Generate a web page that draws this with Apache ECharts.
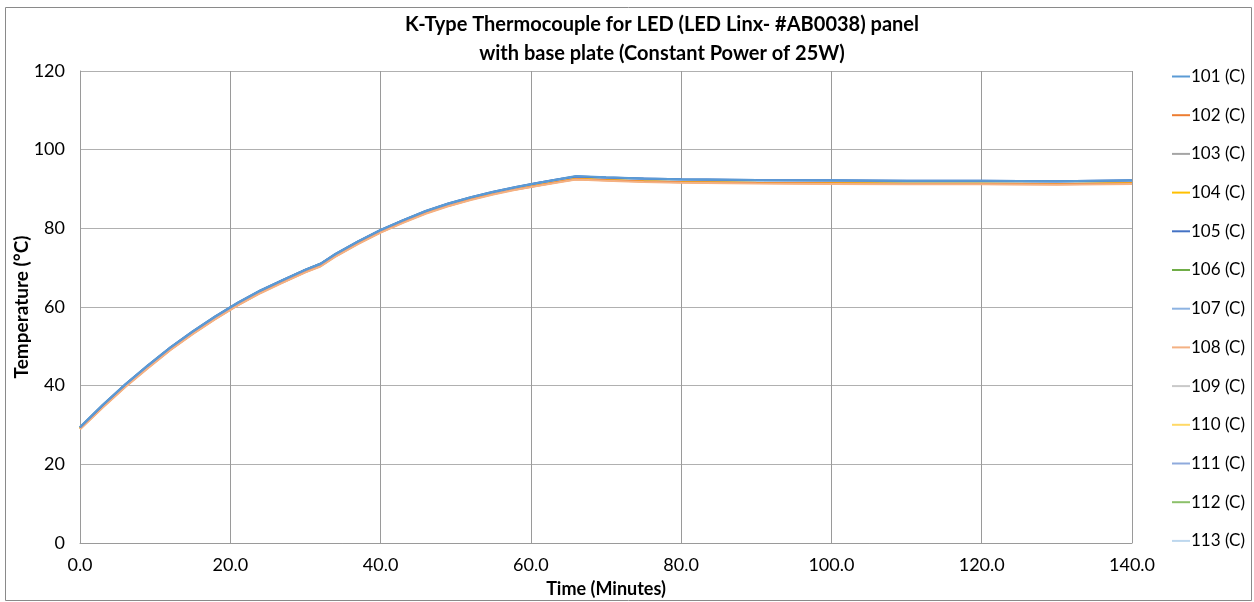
<!DOCTYPE html>
<html>
<head>
<meta charset="utf-8">
<script src="https://cdn.jsdelivr.net/npm/echarts@6/dist/echarts.min.js"></script>
<style>
html,body{margin:0;padding:0;background:#fff;}
#chart{width:1254px;height:602px;}
</style>
</head>
<body>
<div id="chart"></div>
<script>
// Time (minutes)
const times = [0,3,6,9,12,15,18,21,24,27,30,32,34,37,40,43,46,49,52,55,58,61,64,66,70,75,80,90,100,110,120,130,140];

const seriesNames = ['101 (C)','102 (C)','103 (C)','104 (C)','105 (C)','106 (C)','107 (C)','108 (C)','109 (C)','110 (C)','111 (C)','112 (C)','113 (C)'];

const s101 = [29.5,35.1,40.3,45.1,49.7,53.8,57.6,61.1,64.2,66.9,69.5,71.0,73.5,76.7,79.6,82.1,84.4,86.3,87.9,89.3,90.5,91.6,92.6,93.3,93.0,92.7,92.5,92.3,92.2,92.1,92.1,92.0,92.2];
const s102 = [29.0,34.5,39.7,44.5,49.1,53.2,57.0,60.5,63.6,66.3,68.9,70.4,72.9,76.1,79.0,81.5,83.8,85.7,87.3,88.7,89.9,90.9,91.9,92.5,92.2,91.9,91.7,91.5,91.4,91.3,91.3,91.2,91.4];
const s103 = [29.3,34.8,40.0,44.8,49.4,53.5,57.3,60.8,63.9,66.6,69.2,70.7,73.2,76.4,79.3,81.8,84.1,86.0,87.6,89.0,90.2,91.3,92.3,92.9,92.6,92.3,92.1,91.9,91.8,91.7,91.7,91.6,91.8];
const s104 = [29.1,34.6,39.8,44.6,49.2,53.3,57.1,60.6,63.7,66.4,69.0,70.5,73.0,76.2,79.1,81.6,83.9,85.8,87.4,88.8,90.0,91.0,92.0,92.6,92.3,92.0,91.8,91.6,91.5,91.4,91.4,91.3,91.5];
const s105 = [29.4,35.0,40.3,45.1,49.7,53.8,57.6,61.1,64.2,66.9,69.5,71.0,73.5,76.7,79.6,82.1,84.4,86.3,87.9,89.3,90.5,91.6,92.6,93.2,92.9,92.7,92.5,92.3,92.2,92.1,92.1,92.0,92.2];
const s106 = [29.3,34.9,40.1,44.9,49.5,53.6,57.4,60.9,64.0,66.7,69.3,70.9,73.3,76.5,79.4,81.9,84.2,86.1,87.7,89.1,90.3,91.4,92.4,93.0,92.7,92.4,92.2,92.0,91.9,91.8,91.8,91.7,91.9];
const s107 = [29.4,34.9,40.2,45.0,49.6,53.7,57.5,61.0,64.1,66.8,69.4,71.0,73.4,76.6,79.5,82.0,84.3,86.2,87.8,89.2,90.4,91.5,92.5,93.1,92.8,92.5,92.3,92.1,92.0,91.9,91.9,91.8,92.0];
const s108 = [28.9,34.4,39.6,44.4,49.0,53.1,56.9,60.4,63.5,66.2,68.8,70.3,72.8,76.0,78.9,81.4,83.7,85.6,87.2,88.6,89.8,90.8,91.8,92.4,92.1,91.8,91.6,91.4,91.3,91.2,91.2,91.1,91.3];
const s109 = [29.2,34.8,40.0,44.8,49.4,53.5,57.3,60.8,63.9,66.6,69.2,70.8,73.2,76.4,79.3,81.8,84.1,86.0,87.6,89.0,90.2,91.3,92.3,92.9,92.6,92.3,92.1,91.9,91.8,91.7,91.7,91.6,91.8];
const s110 = [29.2,34.7,39.9,44.7,49.3,53.4,57.2,60.7,63.8,66.5,69.1,70.6,73.1,76.3,79.2,81.7,84.0,85.9,87.5,88.9,90.1,91.2,92.2,92.8,92.5,92.2,92.0,91.8,91.7,91.6,91.6,91.5,91.7];
const s111 = [29.4,35.0,40.2,45.0,49.6,53.7,57.5,61.0,64.1,66.8,69.4,70.9,73.4,76.6,79.5,82.0,84.3,86.2,87.8,89.2,90.4,91.5,92.5,93.2,92.9,92.6,92.4,92.2,92.1,92.0,92.0,91.9,92.1];
const s112 = [29.3,34.9,40.1,44.9,49.5,53.6,57.4,60.9,64.0,66.7,69.4,71.0,73.3,76.5,79.4,81.9,84.2,86.1,87.7,89.1,90.3,91.4,92.4,93.0,92.7,92.4,92.2,92.0,91.9,91.8,91.8,91.7,91.9];
const s113 = [29.4,34.9,40.1,44.9,49.5,53.6,57.4,60.9,64.1,66.8,69.4,70.9,73.4,76.6,79.5,82.0,84.3,86.2,87.8,89.2,90.4,91.5,92.5,93.1,92.8,92.5,92.3,92.1,92.0,91.9,91.9,91.8,92.0];

const xTicks = [0,20,40,60,80,100,120,140];
const yTicks = [0,20,40,60,80,100,120];

const allValues = [s101,s102,s103,s104,s105,s106,s107,s108,s109,s110,s111,s112,s113];
const colors = ['#5B9BD5','#ED7D31','#A5A5A5','#FFC000','#4472C4','#70AD47','#8DB3E2','#F4B183','#C9C9C9','#FFD966','#8FAADC','#8CC06A','#BDD7EE'];

const FONT = 'Lato, "Open Sans", sans-serif';

const chart = echarts.init(document.getElementById('chart'), null, {renderer:'canvas'});

const series = seriesNames.map((name, i) => ({
  name: name,
  type: 'line',
  data: times.map((t, j) => [t, allValues[i][j]]),
  symbol: 'none',
  smooth: false,
  lineStyle: {width: 2, color: colors[i]},
  itemStyle: {color: colors[i]},
  animation: false
}));
// draw order so top blue and bottom orange edges are visible
const order = [2,8,9,5,11,6,12,3,1,7,10,4,0];

chart.setOption({
  backgroundColor: '#ffffff',
  animation: false,
  title: {
    text: 'K-Type Thermocouple for LED (LED Linx- #AB0038) panel\nwith base plate (Constant Power of 25W)',
    left: 657,
    top: 5,
    textAlign: 'center',
    textStyle: {fontFamily: FONT, fontWeight: 'bold', fontSize: 20, color: '#000', lineHeight: 29}
  },
  graphic: [{
    type: 'rect',
    shape: {x: 5.5, y: 7.5, width: 1246, height: 593},
    style: {fill: 'none', stroke: '#8a8a8a', lineWidth: 1},
    silent: true,
    z: -1
  }],
  legend: {
    orient: 'vertical',
    left: 1167,
    top: 63,
    itemWidth: 18,
    itemHeight: 2,
    itemGap: 21.7,
    icon: 'rect',
    data: seriesNames,
    textStyle: {fontFamily: FONT, fontSize: 17, color: '#000', padding: [0,0,0,-4]}
  },
  grid: {left: 80, top: 71, width: 1052, height: 472, containLabel: false, outerBoundsMode: 'none'},
  xAxis: {
    type: 'value',
    min: 0, max: 140, interval: 20,
    name: 'Time (Minutes)',
    nameLocation: 'middle',
    nameGap: 37,
    nameMoveOverlap: false,
    nameTextStyle: {fontFamily: FONT, fontWeight: 'bold', fontSize: 18, color: '#000'},
    axisLine: {show: true, lineStyle: {color: '#9a9a9a', width: 1}},
    axisTick: {show: false},
    axisLabel: {fontFamily: FONT, fontSize: 18, color: '#000', margin: 13,
      formatter: v => xTicks.includes(v) ? v.toFixed(1) : ''},
    splitLine: {show: true, lineStyle: {color: '#9a9a9a', width: 1}}
  },
  yAxis: {
    type: 'value',
    min: 0, max: 120, interval: 20,
    name: 'Temperature (°C)',
    nameLocation: 'middle',
    nameGap: 49,
    nameMoveOverlap: false,
    nameRotate: 90,
    nameTextStyle: {fontFamily: FONT, fontWeight: 'bold', fontSize: 19, color: '#000'},
    axisLine: {show: true, lineStyle: {color: '#9a9a9a', width: 1}},
    axisTick: {show: false},
    axisLabel: {fontFamily: FONT, fontSize: 18, color: '#000', margin: 15,
      formatter: v => yTicks.includes(v) ? String(v) : ''},
    splitLine: {show: true, lineStyle: {color: '#b0b0b0', width: 1}}
  },
  series: order.map(i => series[i])
});
</script>
</body>
</html>
